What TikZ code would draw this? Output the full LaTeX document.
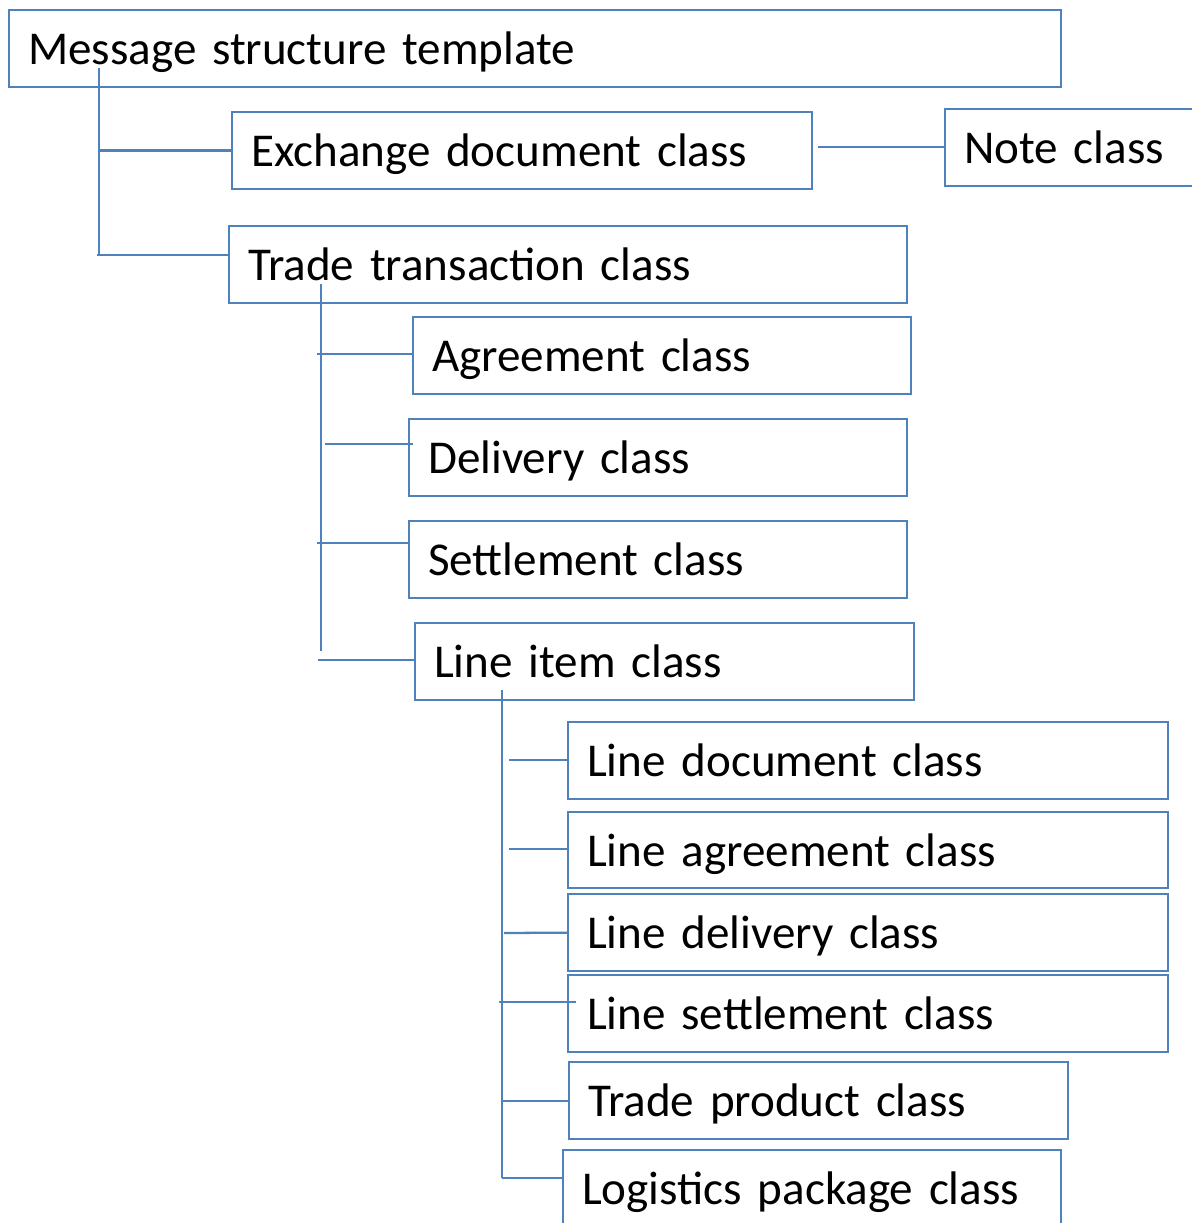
\documentclass[tikz,border=0pt]{standalone}
\usepackage{fontspec}
\setmainfont{Carlito}
\definecolor{linkblue}{HTML}{4F81BD}

\begin{document}
\begin{tikzpicture}[x=0.02cm,y=-0.02cm,
every node/.style={draw=linkblue,line width=1.3pt,anchor=north west,minimum height=1.54cm,
inner xsep=0.38cm,inner ysep=0pt,text height=0.66cm,text depth=0.02cm,font=\fontsize{26.8}{32}\selectfont},
link/.style={draw=linkblue,line width=1.3pt}]
\clip (0,0) rectangle (1192,1223);
% top level
\node (msg) at (8,9) [text width=20.28cm] {Message structure template};
\node (exch) at (231,111) [text width=10.84cm] {Exchange document class};
\node (note) at (944,108) [text width=4.44cm] {Note class};
\node (trade) at (228,225) [text width=12.8cm] {Trade transaction class};
% trade transaction
\node (agree) at (412,316) [text width=9.2cm] {Agreement class};
\node (deliv) at (408,418) [text width=9.2cm] {Delivery class};
\node (settle) at (408,520) [text width=9.2cm] {Settlement class};
\node (item) at (414,622) [text width=9.22cm] {Line item class};
% line item
\node (ldoc) at (567,721) [text width=11.24cm] {Line document class};
\node (lagree) at (567,811) [text width=11.24cm, minimum height=1.52cm] {Line agreement class};
\node (ldeliv) at (567,893) [text width=11.24cm] {Line delivery class};
\node (lsettle) at (567,974) [text width=11.24cm] {Line settlement class};
\node (tprod) at (568,1061) [text width=9.22cm] {Trade product class};
\node (logist) at (562,1149) [text width=9.2cm] {Logistics package class};

% trunks
\coordinate (t1) at (99,68);
\coordinate (t1b) at (99,255);
\coordinate (t2) at (321,284);
\coordinate (t2b) at (321,651);
\coordinate (t3) at (502,690);
\coordinate (t3b) at (502,1178);
\draw[link] (t1) -- (t1b);
\draw[link] (t2) -- (t2b);
\draw[link] (t3) -- (t3b);

% branches
\draw[link] (t1 |- exch.west) -- (exch.west);
\draw[link] (97,255) coordinate (b1) -- (trade.west |- b1);
\draw[link] (818,147) coordinate (b2) -- (note.west |- b2);
\draw[link] (317,354) coordinate (b3) -- (agree.west |- b3);
\draw[link] (325,444) coordinate (b4) -- ([xshift=0.1cm]deliv.west |- b4);
\draw[link] (317,543) coordinate (b5) -- (settle.west |- b5);
\draw[link] (318,660) coordinate (b6) -- (item.west |- b6);
\draw[link] (509,760) coordinate (b7) -- (ldoc.west |- b7);
\draw[link] (509,849) coordinate (b8) -- (lagree.west |- b8);
\draw[link] (504,933) coordinate (b9) -- (ldeliv.west);
\draw[link] (499,1002) coordinate (b10) -- ([xshift=0.18cm]lsettle.west |- b10);
\draw[link] (t3 |- tprod.west) -- (tprod.west);
\draw[link] (t3b) -- (logist.west |- t3b);
\end{tikzpicture}
\end{document}
